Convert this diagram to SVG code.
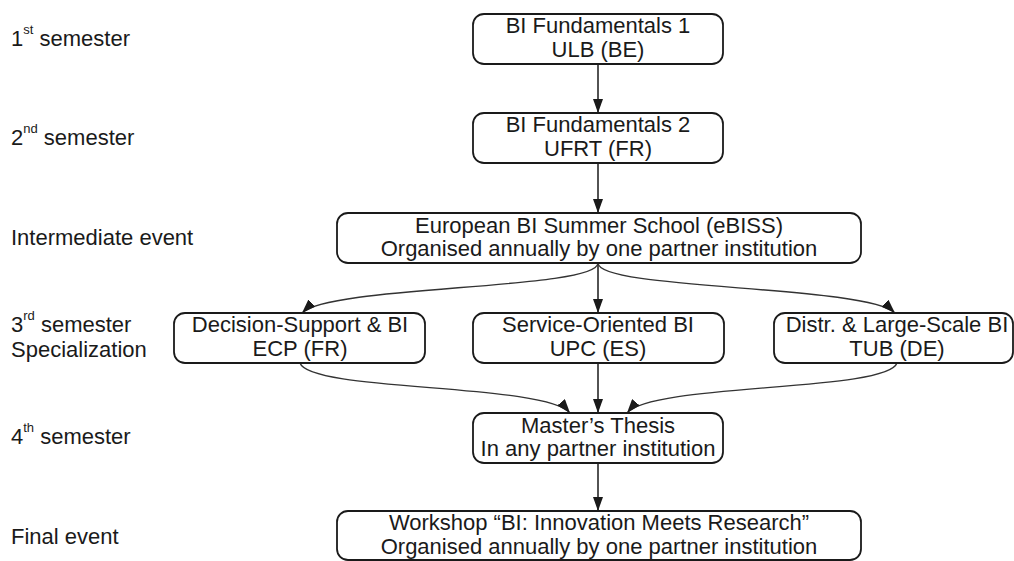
<svg xmlns="http://www.w3.org/2000/svg" width="1014" height="561" viewBox="0 0 1014 561">
<style>
text{font-family:"Liberation Sans",Arial,sans-serif;font-size:22px;fill:#1a1a1a}
.c{text-anchor:middle}
.sup{font-size:13px}
.box{fill:#fff;stroke:#1a1a1a;stroke-width:1.8}
.ln{fill:none;stroke:#1a1a1a;stroke-width:1.5;marker-end:url(#ah)}
.cv{fill:none;stroke:#333;stroke-width:1.4;marker-end:url(#ah)}
</style>
<defs>
<marker id="ah" markerUnits="userSpaceOnUse" viewBox="0 0 14 10" refX="14" refY="5" markerWidth="14" markerHeight="10" orient="auto">
<path d="M0,0 L14,5 L0,10 z" fill="#1a1a1a"/>
</marker>
</defs>
<rect width="1014" height="561" fill="#fff"/>
<g id="labels">
<text x="11" y="46">1<tspan class="sup" dy="-12">st</tspan><tspan dy="12"> semester</tspan></text>
<text x="11" y="145">2<tspan class="sup" dy="-12">nd</tspan><tspan dy="12"> semester</tspan></text>
<text x="11" y="245">Intermediate event</text>
<text x="11" y="332">3<tspan class="sup" dy="-12">rd</tspan><tspan dy="12"> semester</tspan></text>
<text x="11" y="357">Specialization</text>
<text x="11" y="444">4<tspan class="sup" dy="-12">th</tspan><tspan dy="12"> semester</tspan></text>
<text x="11" y="544">Final event</text>
</g>
<g id="connectors">
<line class="ln" x1="598" y1="64" x2="598" y2="113"/>
<line class="ln" x1="598" y1="163" x2="598" y2="213"/>
<line class="ln" x1="598" y1="263" x2="598" y2="313"/>
<path class="cv" d="M598,263 C598,290 330,285 302,313"/>
<path class="cv" d="M598,263 C598,290 866,285 895,313"/>
<line class="ln" x1="598" y1="363" x2="598" y2="413"/>
<path class="cv" d="M300,363 C310,392 545,383 570,413"/>
<path class="cv" d="M897,363 C887,392 652,383 627,413"/>
<line class="ln" x1="598" y1="463" x2="598" y2="511"/>
</g>
<g id="n1">
<rect class="box" x="473" y="14" width="250" height="50" rx="11"/>
<text class="c" x="598" y="33">BI Fundamentals 1</text>
<text class="c" x="598" y="57">ULB (BE)</text>
</g>
<g id="n2">
<rect class="box" x="473" y="113" width="250" height="50" rx="11"/>
<text class="c" x="598" y="132">BI Fundamentals 2</text>
<text class="c" x="598" y="156">UFRT (FR)</text>
</g>
<g id="n3">
<rect class="box" x="337" y="213" width="524" height="50" rx="11"/>
<text class="c" x="599" y="233">European BI Summer School (eBISS)</text>
<text class="c" x="599" y="256">Organised annually by one partner institution</text>
</g>
<g id="n4">
<rect class="box" x="174" y="313" width="251" height="50" rx="11"/>
<text class="c" x="300" y="332">Decision-Support &amp; BI</text>
<text class="c" x="300" y="356">ECP (FR)</text>
</g>
<g id="n5">
<rect class="box" x="473" y="313" width="251" height="50" rx="11"/>
<text class="c" x="598" y="332">Service-Oriented BI</text>
<text class="c" x="598" y="356">UPC (ES)</text>
</g>
<g id="n6">
<rect class="box" x="774" y="313" width="239" height="50" rx="11"/>
<text class="c" x="897" y="332">Distr. &amp; Large-Scale BI</text>
<text class="c" x="897" y="356">TUB (DE)</text>
</g>
<g id="n7">
<rect class="box" x="473" y="413" width="250" height="50" rx="11"/>
<text class="c" x="598" y="433">Master’s Thesis</text>
<text class="c" x="598" y="456">In any partner institution</text>
</g>
<g id="n8">
<rect class="box" x="337" y="511" width="524" height="49" rx="11"/>
<text class="c" x="599" y="530">Workshop “BI: Innovation Meets Research”</text>
<text class="c" x="599" y="554">Organised annually by one partner institution</text>
</g>
</svg>
